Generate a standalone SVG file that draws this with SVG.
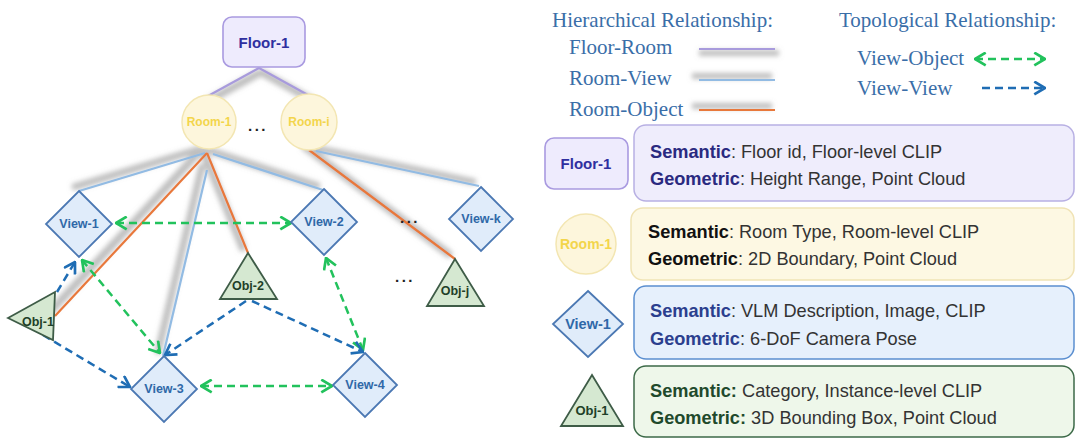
<svg xmlns="http://www.w3.org/2000/svg" width="1080" height="446" viewBox="0 0 1080 446">
<style>
.serif{font-family:"Liberation Serif","Times New Roman",serif;font-size:21px;fill:#3a6ea8}
.info{font-family:"Liberation Sans",Arial,sans-serif;font-size:18.2px;fill:#333}
.nl{font-family:"Liberation Sans",Arial,sans-serif;font-weight:bold;text-anchor:middle}
.floor{fill:#eeebfd;stroke:#a99ae0;stroke-width:1.6}
.room{fill:#fdf6dc;stroke:#f3e6b2;stroke-width:1.5}
.view{fill:#e0ecfa;stroke:#4b78b3;stroke-width:1.8}
.obj{fill:#d5e8d1;stroke:#3e5c47;stroke-width:1.8}
.tf{fill:#2f2fa0;font-size:15px}
.tr{fill:#f3d54c;font-size:12px}
.tv{fill:#2f68a8;font-size:12.5px}
.to{fill:#1f3f28;font-size:12.5px}
.fr{stroke:#a89bdc;stroke-width:2.2;fill:none}
.rv{stroke:#92bbe3;stroke-width:2.2;fill:none}
.ro{stroke:#e8783a;stroke-width:2.2;fill:none}
.gd{stroke:#22c25c;stroke-width:2.5;stroke-dasharray:8 5;fill:none;marker-start:url(#ag);marker-end:url(#ag)}
.bd{stroke:#1f6db4;stroke-width:2.5;stroke-dasharray:8 5;fill:none;marker-end:url(#ab)}
.dots{font-family:"Liberation Sans",Arial,sans-serif;font-size:15px;font-weight:bold;fill:#222;letter-spacing:2.5px;text-anchor:middle}
</style>
<defs>
<marker id="ag" viewBox="0 0 12 14" refX="11" refY="7" markerWidth="13" markerHeight="15" markerUnits="userSpaceOnUse" orient="auto-start-reverse">
<path d="M1,1 L11,7 L1,13" fill="none" stroke="#22c25c" stroke-width="2.5"/>
</marker>
<marker id="ab" viewBox="0 0 12 14" refX="11" refY="7" markerWidth="13" markerHeight="15" markerUnits="userSpaceOnUse" orient="auto-start-reverse">
<path d="M1,1 L11,7 L1,13" fill="none" stroke="#1f6db4" stroke-width="2.5"/>
</marker>
<filter id="shUp" filterUnits="userSpaceOnUse" x="0" y="0" width="1080" height="446">
<feMorphology in="SourceAlpha" operator="dilate" radius="1.5" result="d"/>
<feGaussianBlur in="d" stdDeviation="2.5" result="b"/>
<feOffset in="b" dx="-5" dy="-4" result="o"/>
<feFlood flood-color="#8a8a8a" flood-opacity="0.55"/>
<feComposite in2="o" operator="in" result="s"/>
<feMerge><feMergeNode in="s"/><feMergeNode in="SourceGraphic"/></feMerge>
</filter>
<filter id="shDown" filterUnits="userSpaceOnUse" x="0" y="0" width="1080" height="446">
<feMorphology in="SourceAlpha" operator="dilate" radius="1.5" result="d"/>
<feGaussianBlur in="d" stdDeviation="2.5" result="b"/>
<feOffset in="b" dx="2" dy="4" result="o"/>
<feFlood flood-color="#8a8a8a" flood-opacity="0.55"/>
<feComposite in2="o" operator="in" result="s"/>
<feMerge><feMergeNode in="s"/><feMergeNode in="SourceGraphic"/></feMerge>
</filter>
</defs>

<g id="connectors">
<g filter="url(#shDown)">
<path class="fr" d="M259,68 L208,96"/>
<path class="fr" d="M259,68 L308,95"/>
</g>
<g filter="url(#shUp)">
<path class="rv" d="M205,153 L79,191"/>
<path class="ro" d="M207,153 L55,316"/>
<path class="rv" d="M207,170 L163,356"/>
<path class="ro" d="M207,153 L248,253"/>
<path class="rv" d="M213,154 L323,190"/>
<path class="ro" d="M309,150 L455,259"/>
<path class="rv" d="M316,151 L479,186"/>
</g>
<path class="gd" d="M116,223 L291,223"/>
<path class="gd" d="M82,260 L160,353"/>
<path class="gd" d="M326,258 L363,350"/>
<path class="gd" d="M201,386 L332,386"/>
<path class="bd" d="M57,292 L75,262"/>
<path class="bd" d="M43,335 L130,387"/>
<path class="bd" d="M246,301 L165,355"/>
<path class="bd" d="M252,301 L363,352"/>
</g>

<g id="floor1">
<rect class="floor" x="223" y="17" width="82" height="50" rx="9"/>
<text class="nl tf" x="264" y="48">Floor-1</text>
</g>
<g id="room1">
<circle class="room" cx="209" cy="122" r="27"/>
<text class="nl tr" x="209" y="126">Room-1</text>
</g>
<text class="dots" x="258" y="131">...</text>
<g id="roomi">
<circle class="room" cx="309" cy="122" r="28"/>
<text class="nl tr" x="309" y="126">Room-i</text>
</g>
<g id="view1">
<path class="view" d="M79,191 L112,224 L79,257 L46,224 Z"/>
<text class="nl tv" x="79" y="228">View-1</text>
</g>
<g id="view2">
<path class="view" d="M324,189 L357,222 L324,255 L291,222 Z"/>
<text class="nl tv" x="324" y="226">View-2</text>
</g>
<g id="viewk">
<path class="view" d="M481,187 L513,219 L481,251 L449,219 Z"/>
<text class="nl tv" x="481" y="223">View-k</text>
</g>
<g id="view3">
<path class="view" d="M164,356 L197,389 L164,422 L131,389 Z"/>
<text class="nl tv" x="164" y="393">View-3</text>
</g>
<g id="view4">
<path class="view" d="M365,353 L397,385 L365,417 L333,385 Z"/>
<text class="nl tv" x="365" y="389">View-4</text>
</g>
<g id="obj1">
<path class="obj" d="M8,318 L55,292 L53,340 Z"/>
<text class="nl to" x="38" y="326">Obj-1</text>
</g>
<g id="obj2">
<path class="obj" d="M248,253 L277,299 L220,299 Z"/>
<text class="nl to" x="248" y="290">Obj-2</text>
</g>
<g id="objj">
<path class="obj" d="M455,259 L484,306 L427,306 Z"/>
<text class="nl to" x="455" y="295">Obj-j</text>
</g>
<text class="dots" x="410" y="223">...</text>
<text class="dots" x="405" y="282">...</text>

<g id="legend-relations">
<text class="serif" x="552" y="27">Hierarchical Relationship:</text>
<text class="serif" x="569" y="54">Floor-Room</text>
<text class="serif" x="569" y="85">Room-View</text>
<text class="serif" x="569" y="116">Room-Object</text>
<path class="fr" d="M699,49 L775,49" filter="url(#shDown)"/>
<path class="rv" d="M699,80 L775,80" filter="url(#shUp)"/>
<path class="ro" d="M699,110 L775,110" filter="url(#shUp)"/>
<text class="serif" x="839" y="27">Topological Relationship:</text>
<text class="serif" x="857" y="65">View-Object</text>
<text class="serif" x="857" y="95">View-View</text>
<path class="gd" d="M975,59 L1045,59"/>
<path class="bd" d="M982,88 L1045,88"/>
</g>

<g id="legend-floor">
<rect class="floor" x="545" y="138" width="83" height="51" rx="9"/>
<text class="nl tf" x="586" y="169">Floor-1</text>
<rect x="634" y="125" width="440" height="76" rx="12" fill="#efedfc" stroke="#b8b0e3" stroke-width="1.5"/>
<text class="info" x="650" y="158"><tspan font-weight="bold" fill="#2a2a80">Semantic</tspan>: Floor id, Floor-level CLIP</text>
<text class="info" x="650" y="185"><tspan font-weight="bold" fill="#2a2a80">Geometric</tspan>: Height Range, Point Cloud</text>
</g>
<g id="legend-room">
<circle class="room" cx="586" cy="244" r="30"/>
<text class="nl tr" x="586" y="249" style="font-size:14px">Room-1</text>
<rect x="631" y="208" width="443" height="72" rx="12" fill="#fdf8e3" stroke="#f0e3b5" stroke-width="1.5"/>
<text class="info" x="648" y="238"><tspan font-weight="bold" fill="#111">Semantic</tspan>: Room Type, Room-level CLIP</text>
<text class="info" x="648" y="265"><tspan font-weight="bold" fill="#111">Geometric</tspan>: 2D Boundary, Point Cloud</text>
</g>
<g id="legend-view">
<path class="view" d="M588,291 L623,324 L588,357 L553,324 Z"/>
<text class="nl tv" x="588" y="329" style="font-size:14.5px">View-1</text>
<rect x="634" y="286" width="440" height="73" rx="12" fill="#e6f0fc" stroke="#5b8fd0" stroke-width="1.5"/>
<text class="info" x="650" y="317"><tspan font-weight="bold" fill="#2b3f8e">Semantic</tspan>: VLM Description, Image, CLIP</text>
<text class="info" x="650" y="345"><tspan font-weight="bold" fill="#2b3f8e">Geometric</tspan>: 6-DoF Camera Pose</text>
</g>
<g id="legend-obj">
<path class="obj" d="M592,375 L623,426 L561,426 Z"/>
<text class="nl to" x="592" y="415" style="font-size:13px">Obj-1</text>
<rect x="634" y="366" width="440" height="71" rx="12" fill="#eef7ea" stroke="#3c6a48" stroke-width="1.5"/>
<text class="info" x="650" y="397" fill="#444"><tspan font-weight="bold" fill="#1f4a2c">Semantic:</tspan> Category, Instance-level CLIP</text>
<text class="info" x="650" y="424" fill="#444"><tspan font-weight="bold" fill="#1f4a2c">Geometric:</tspan> 3D Bounding Box, Point Cloud</text>
</g>
</svg>
